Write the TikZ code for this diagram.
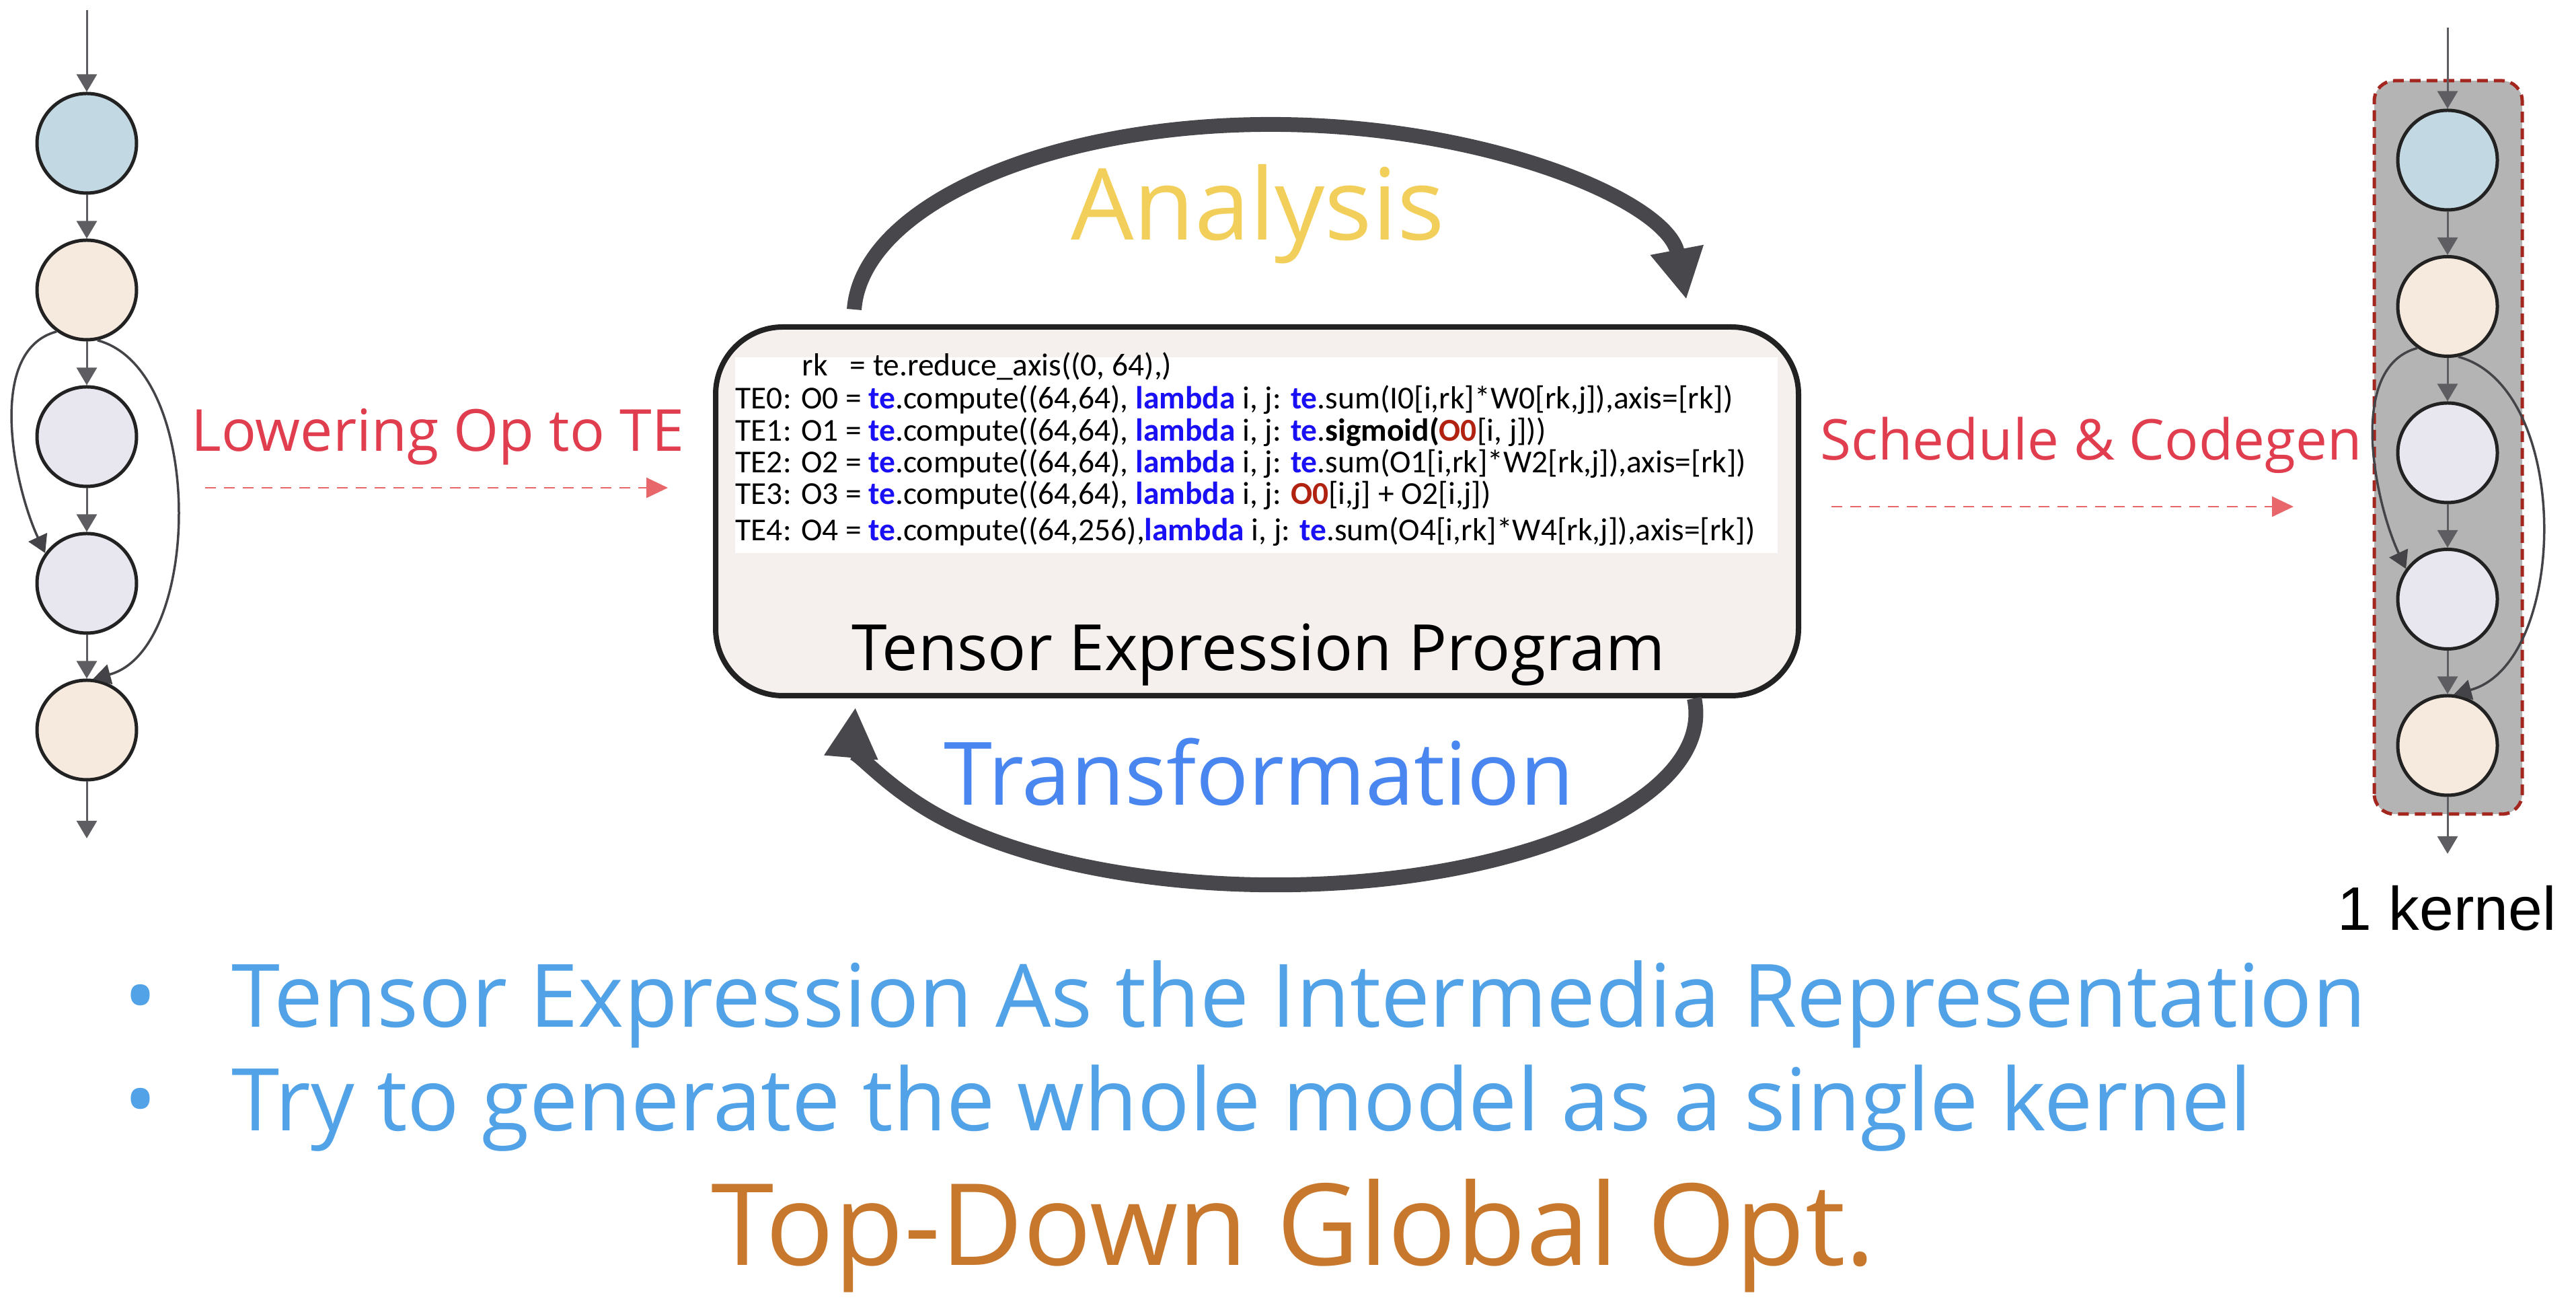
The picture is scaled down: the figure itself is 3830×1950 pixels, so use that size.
\documentclass[tikz,border=0pt]{standalone}
\usepackage{fontspec}
\usetikzlibrary{arrows.meta}

\newfontfamily\chalk{Open Sans}
\newfontfamily\codefont{Carlito}
\newfontfamily\helv{Liberation Sans}

\definecolor{opblue}{HTML}{C2D8E2}
\definecolor{oppeach}{HTML}{F6E9DD}
\definecolor{oplav}{HTML}{E8E6EE}
\definecolor{nodeline}{HTML}{222222}
\definecolor{flowgray}{HTML}{5E5E62}
\definecolor{skipgray}{HTML}{444448}
\definecolor{loopgray}{HTML}{48484C}
\definecolor{progfill}{HTML}{F5F0ED}
\definecolor{lowred}{HTML}{E03E4E}
\definecolor{dashred}{HTML}{E8676B}
\definecolor{kernelred}{HTML}{A3261F}
\definecolor{kernelgray}{HTML}{B4B4B4}
\definecolor{codeblue}{HTML}{1A10F5}
\definecolor{codered}{HTML}{B22210}
\definecolor{anayellow}{HTML}{F2CF5B}
\definecolor{transblue}{HTML}{4A86F0}
\definecolor{noteblue}{HTML}{52A2E8}
\definecolor{topbrown}{HTML}{C8782C}

\newcommand{\tekw}[1]{\textcolor{codeblue}{\textbf{#1}}}
\newcommand{\teref}[1]{\textcolor{codered}{\textbf{#1}}}

\begin{document}
\begin{tikzpicture}[x=0.1mm,y=0.1mm,
  op/.style={circle,draw=nodeline,line width=0.5mm,minimum size=14.8mm,inner sep=0pt},
  flow/.style={draw=flowgray,line width=0.3mm,-{Triangle[width=3mm,length=2.6mm]}},
  skip/.style={draw=skipgray,line width=0.35mm,-{Triangle[width=3mm,length=2.6mm]}},
  passarrow/.style={draw=dashred,line width=0.25mm,dash pattern=on 1.6mm off 1.2mm,-{Triangle[width=3mm,length=3.2mm]}},
  iterarrow/.style={draw=loopgray,line width=2.2mm,-{Triangle[width=7.5mm,length=7.5mm]}},
  code/.style={anchor=base west,inner sep=0pt,font=\codefont\fontsize{13.5}{16}\selectfont},
  passlabel/.style={anchor=base,inner sep=0pt,text=lowred,font=\chalk\fontsize{24.5}{29}\selectfont},
  note/.style={anchor=base west,inner sep=0pt,text=noteblue,font=\chalk\fontsize{37}{44}\selectfont}]

  \useasboundingbox (0,0) rectangle (3830,1950);

  % graph before lowering
  \foreach \i/\c in {1/opblue,2/oppeach,3/oplav,4/oplav,5/oppeach}
    \node[op,fill=\c] (l\i) at (129,{1955-218*\i}) {};
  \coordinate (lin) at (129,1935);
  \coordinate (lout) at (129,704);
  \draw[flow] (lin) -- (l1);
  \foreach \i/\j in {1/2,2/3,3/4,4/5}
    \draw[flow] (l\i) -- (l\j);
  \draw[flow] (l5) -- (lout);
  \draw[skip] (l2.234) to[out=195,in=115,looseness=0.85] (l4.144);
  \draw[skip] (l2.282) to[out=345,in=15,looseness=0.85] (l5.83);

  \node[passlabel] (lower) at (651,1279) {Lowering Op to TE};
  \coordinate (lowS) at (305,1225);
  \coordinate (lowE) at (993,1225);
  \draw[passarrow] (lowS) -- (lowE);

  % tensor expression program
  \node[draw=nodeline,line width=0.8mm,fill=progfill,rounded corners=10mm,
        minimum width=161mm,minimum height=54.8mm] (prog) at (1869,1190) {};
  \fill[white] (1093,1128) rectangle (2643,1419);
  \node[code] (rk) at (1192,1391) {rk\hspace{3.3mm}= te.reduce\_axis((0, 64),)};
  \node[code] (te0) at (1093,1342) {TE0: O0 = \tekw{te}.compute((64,64), \tekw{lambda} i, j: \tekw{te}.sum(I0[i,rk]*W0[rk,j]),axis=[rk])};
  \node[code] (te1) at (1093,1294) {TE1: O1 = \tekw{te}.compute((64,64), \tekw{lambda} i, j: \tekw{te}.\textbf{sigmoid(}\teref{O0}[i, j]))};
  \node[code] (te2) at (1093,1247) {TE2: O2 = \tekw{te}.compute((64,64), \tekw{lambda} i, j: \tekw{te}.sum(O1[i,rk]*W2[rk,j]),axis=[rk])};
  \node[code] (te3) at (1093,1200) {TE3: O3 = \tekw{te}.compute((64,64), \tekw{lambda} i, j: \teref{O0}[i,j] + O2[i,j])};
  \node[code] (te4) at (1093,1146) {TE4: O4 = \tekw{te}.compute((64,256),\tekw{lambda} i, j: \tekw{te}.sum(O4[i,rk]*W4[rk,j]),axis=[rk])};
  \node[anchor=base,inner sep=0pt,font=\chalk\fontsize{27}{32}\selectfont] (progname) at (1871,953) {Tensor Expression Program};

  \coordinate (anaS) at (1270,1490);
  \draw[iterarrow] (anaS) arc[start angle=178,end angle=5,x radius=620,y radius=285];
  \node[anchor=base,inner sep=0pt,text=anayellow,font=\chalk\fontsize{42}{50}\selectfont] (ana) at (1870,1593) {Analysis};
  \coordinate (transS) at (2519,912);
  \draw[iterarrow] (transS) arc[start angle=5,end angle=-182,x radius=625,y radius=255];
  \node[anchor=base,inner sep=0pt,text=transblue,font=\chalk\fontsize{37}{44}\selectfont] (trans) at (1872,753) {Transformation};

  % schedule and codegen
  \node[passlabel,font=\chalk\fontsize{23.8}{29}\selectfont] (sched) at (3109,1266) {Schedule \& Codegen};
  \coordinate (schS) at (2723,1197);
  \coordinate (schE) at (3410,1197);
  \draw[passarrow] (schS) -- (schE);

  % fused kernel
  \draw[fill=kernelgray,draw=kernelred,line width=0.5mm,dash pattern=on 1.6mm off 0.9mm,rounded corners=3mm]
    (3530,740) rectangle (3750,1830);
  \foreach \i/\c in {1/opblue,2/oppeach,3/oplav,4/oplav,5/oppeach}
    \node[op,fill=\c] (k\i) at (3639,{1929.5-217.5*\i}) {};
  \coordinate (kin) at (3639,1909);
  \coordinate (kout) at (3639,681);
  \draw[flow] (kin) -- (k1);
  \foreach \i/\j in {1/2,2/3,3/4,4/5}
    \draw[flow] (k\i) -- (k\j);
  \draw[flow] (k5) -- (kout);
  \draw[skip] (k2.234) to[out=195,in=115,looseness=0.85] (k4.144);
  \draw[skip] (k2.282) to[out=345,in=15,looseness=0.9] (k5.83);
  \node[anchor=base,inner sep=0pt,font=\helv\fontsize{26}{31}\selectfont] (kname) at (3638,567) {1 kernel};

  % notes
  \node[note,anchor=base] (d1) at (209,423) {\textbullet};
  \node[note] (n1) at (344,423) {Tensor Expression As the Intermedia Representation};
  \node[note,anchor=base] (d2) at (209,269) {\textbullet};
  \node[note,font=\chalk\fontsize{36.6}{44}\selectfont] (n2) at (344,269) {Try to generate the whole model as a single kernel};
  \node[anchor=base,inner sep=0pt,text=topbrown,font=\chalk\fontsize{48}{58}\selectfont] (topdown) at (1923,69) {Top-Down Global Opt.};
\end{tikzpicture}
\end{document}
